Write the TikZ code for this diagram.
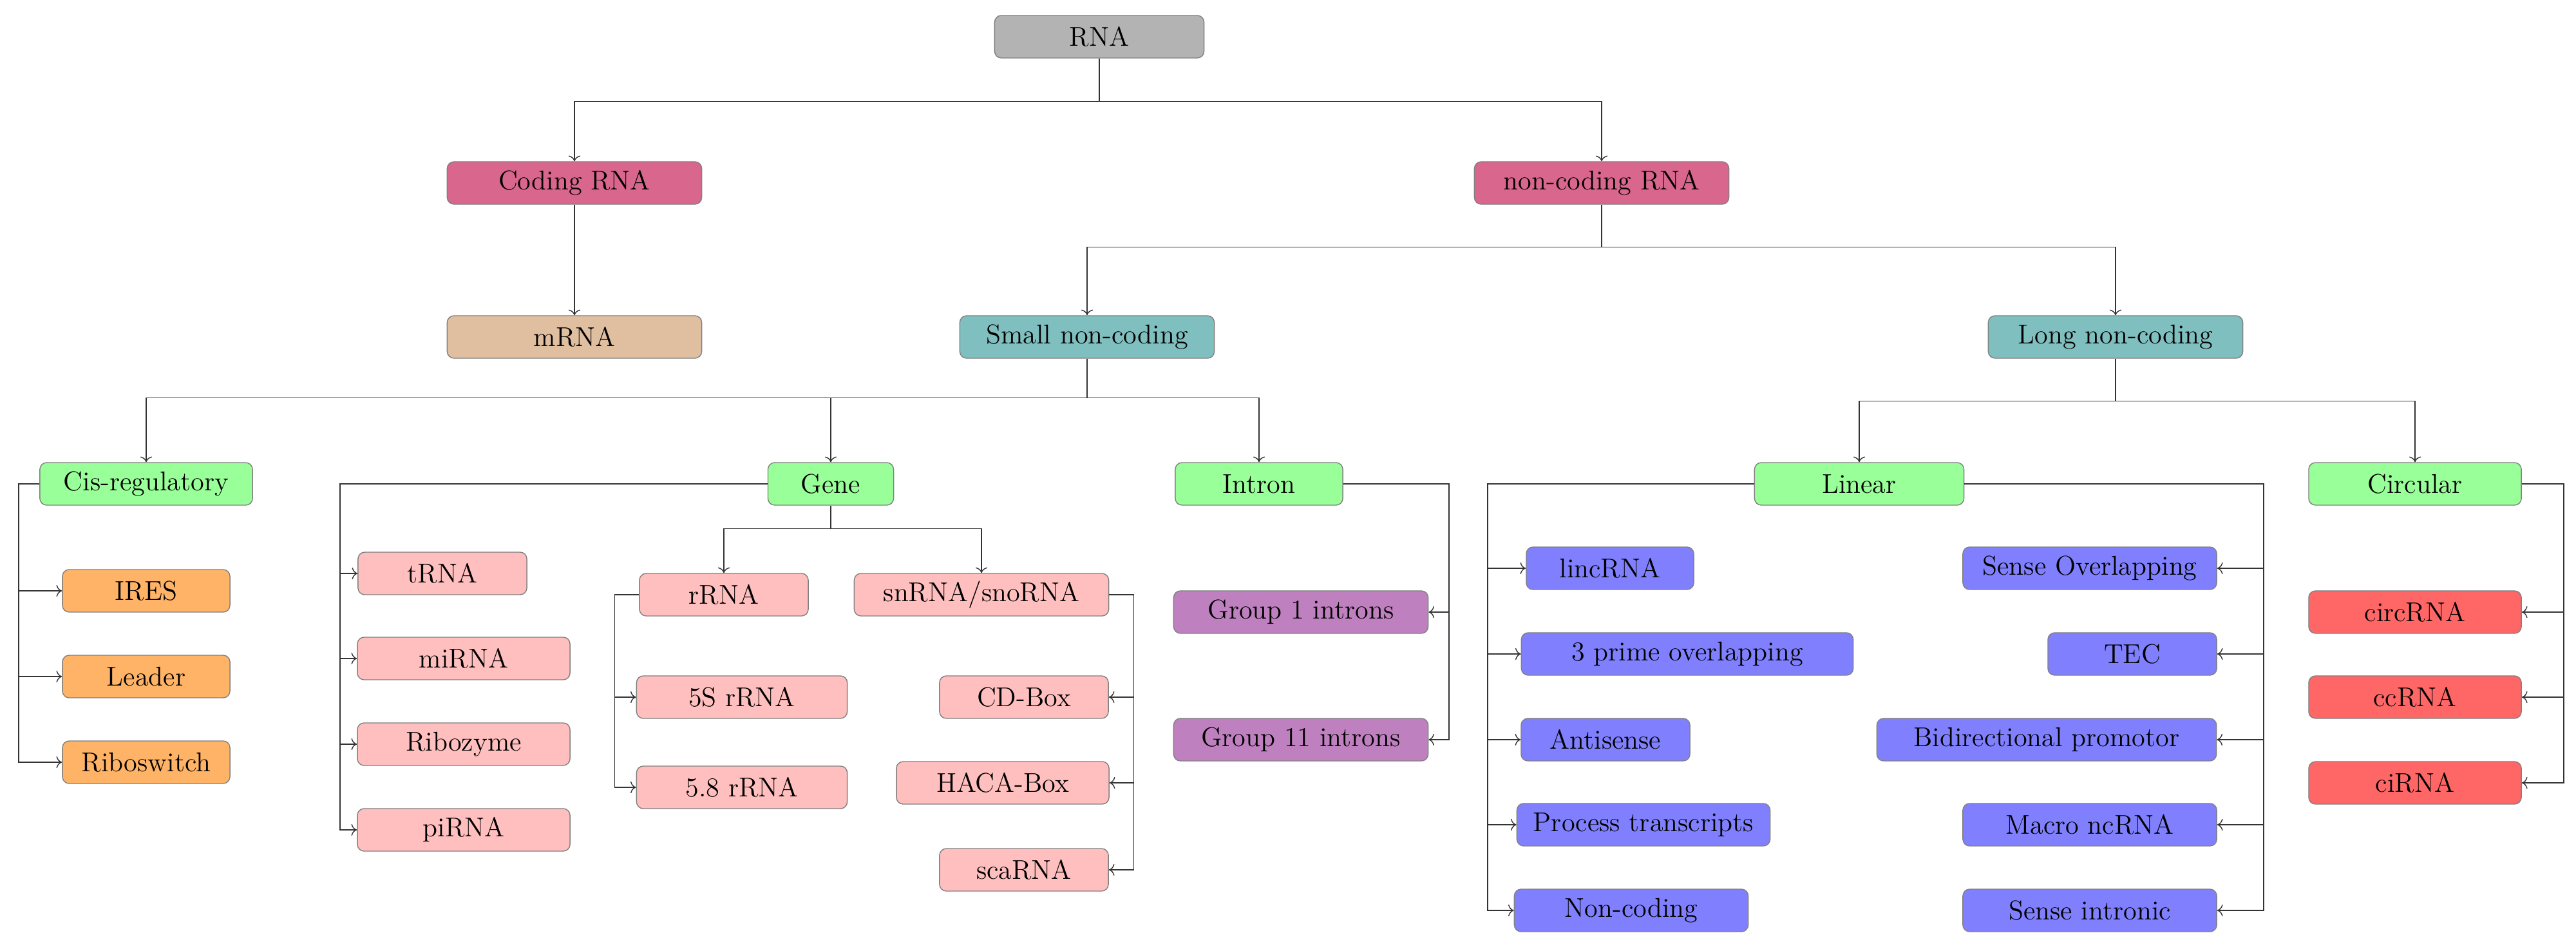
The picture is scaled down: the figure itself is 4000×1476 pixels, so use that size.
\documentclass[tikz,border=0pt]{standalone}
\usetikzlibrary{arrows.meta}
\definecolor{cgray}{RGB}{179,179,179}
\definecolor{cmag}{RGB}{217,102,140}
\definecolor{ctan}{RGB}{224,191,161}
\definecolor{cteal}{RGB}{128,191,191}
\definecolor{cgreen}{RGB}{153,255,153}
\definecolor{corange}{RGB}{255,179,102}
\definecolor{cpink}{RGB}{255,191,191}
\definecolor{cpurple}{RGB}{191,128,191}
\definecolor{cblue}{RGB}{128,128,255}
\definecolor{cred}{RGB}{255,102,102}
\tikzset{
  box/.style={draw=black!50, rounded corners=3pt, minimum height=0.66cm, inner sep=0pt, font=\large},
  arr/.style={->, draw=black!80, thin},
  ln/.style={draw=black!80, thin}
}
\begin{document}
\begin{tikzpicture}[x=0.01cm,y=-0.01cm]
\useasboundingbox (0,0) rectangle (4000,1476);
% top levels
\node[box, fill=cgray, minimum width=3.25cm] (rna) at (1707,57) {RNA};
\node[box, fill=cmag, minimum width=3.95cm] (coding) at (892,284) {Coding RNA};
\node[box, fill=cmag, minimum width=3.95cm] (noncoding) at (2487,284) {non-coding RNA};
\node[box, fill=ctan, minimum width=3.95cm] (mrna) at (892,523) {mRNA};
\node[box, fill=cteal, minimum width=3.95cm] (small) at (1688,523) {Small non-coding};
\node[box, fill=cteal, minimum width=3.95cm] (long) at (3285,523) {Long non-coding};
% third level
\node[box, fill=cgreen, minimum width=3.3cm] (cis) at (227,751) {Cis-regulatory};
\node[box, fill=cgreen, minimum width=1.95cm] (gene) at (1290,751) {Gene};
\node[box, fill=cgreen, minimum width=2.6cm] (intron) at (1955,751) {Intron};
\node[box, fill=cgreen, minimum width=3.25cm] (linear) at (2887,751) {Linear};
\node[box, fill=cgreen, minimum width=3.3cm] (circular) at (3750,751) {Circular};
% cis-regulatory
\node[box, fill=corange, minimum width=2.6cm] (ires) at (227,917) {IRES};
\node[box, fill=corange, minimum width=2.6cm] (leader) at (227,1050) {Leader};
\node[box, fill=corange, minimum width=2.6cm] (ribosw) at (227,1183) {Riboswitch};
% gene
\node[box, fill=cpink, minimum width=2.62cm] (trna) at (687,890) {tRNA};
\node[box, fill=cpink, minimum width=3.3cm] (mirna) at (720,1022) {miRNA};
\node[box, fill=cpink, minimum width=3.3cm] (ribozyme) at (720,1155) {Ribozyme};
\node[box, fill=cpink, minimum width=3.3cm] (pirna) at (720,1288) {piRNA};
\node[box, fill=cpink, minimum width=2.62cm] (rrna) at (1124,923) {rRNA};
\node[box, fill=cpink, minimum width=3.95cm] (snrna) at (1524,923) {snRNA/snoRNA};
\node[box, fill=cpink, minimum width=3.27cm] (fives) at (1152,1082) {5S rRNA};
\node[box, fill=cpink, minimum width=3.27cm] (fiveeight) at (1152,1222) {5.8 rRNA};
\node[box, fill=cpink, minimum width=2.62cm] (cdbox) at (1590,1082) {CD-Box};
\node[box, fill=cpink, minimum width=3.3cm] (hacabox) at (1557,1215) {HACA-Box};
\node[box, fill=cpink, minimum width=2.62cm] (scarna) at (1590,1350) {scaRNA};
% intron
\node[box, fill=cpurple, minimum width=3.95cm] (groupone) at (2020,950) {Group 1 introns};
\node[box, fill=cpurple, minimum width=3.95cm] (groupel) at (2020,1148) {Group 11 introns};
% linear
\node[box, fill=cblue, minimum width=2.6cm] (lincrna) at (2500,882) {lincRNA};
\node[box, fill=cblue, minimum width=5.15cm] (threeprime) at (2620,1015) {3 prime overlapping};
\node[box, fill=cblue, minimum width=2.62cm] (antisense) at (2493,1148) {Antisense};
\node[box, fill=cblue, minimum width=3.93cm] (process) at (2552,1280) {Process transcripts};
\node[box, fill=cblue, minimum width=3.63cm] (noncod) at (2533,1413) {Non-coding};
\node[box, fill=cblue, minimum width=3.94cm] (senseov) at (3245,882) {Sense Overlapping};
\node[box, fill=cblue, minimum width=2.62cm] (tec) at (3311,1015) {TEC};
\node[box, fill=cblue, minimum width=5.27cm] (bidir) at (3178,1148) {Bidirectional promotor};
\node[box, fill=cblue, minimum width=3.94cm] (macro) at (3245,1280) {Macro ncRNA};
\node[box, fill=cblue, minimum width=3.94cm] (senseint) at (3245,1413) {Sense intronic};
% circular
\node[box, fill=cred, minimum width=3.3cm] (circrna) at (3750,950) {circRNA};
\node[box, fill=cred, minimum width=3.3cm] (ccrna) at (3750,1082) {ccRNA};
\node[box, fill=cred, minimum width=3.3cm] (cirna) at (3750,1215) {ciRNA};

% tree connectors
\draw[arr] (rna.south) -- ++(0,67) -| (coding.north);
\draw[arr] (rna.south) -- ++(0,67) -| (noncoding.north);
\draw[arr] (coding.south) -- (mrna.north);
\draw[arr] (noncoding.south) -- ++(0,66) -| (small.north);
\draw[arr] (noncoding.south) -- ++(0,66) -| (long.north);
\draw[arr] (small.south) -- ++(0,61) -| (cis.north);
\draw[arr] (small.south) -- ++(0,61) -| (gene.north);
\draw[arr] (small.south) -- ++(0,61) -| (intron.north);
\draw[arr] (long.south) -- ++(0,66) -| (linear.north);
\draw[arr] (long.south) -- ++(0,66) -| (circular.north);
\draw[arr] (gene.south) -- ++(0,36) -| (rrna.north);
\draw[arr] (gene.south) -- ++(0,36) -| (snrna.north);
% side connectors
\foreach \c in {ires,leader,ribosw}
  \draw[arr] (cis.west) -- ++(-32,0) |- (\c.west);
\foreach \c in {trna,mirna,ribozyme,pirna}
  \draw[arr] (gene.west) -- (528,751) |- (\c.west);
\foreach \c in {fives,fiveeight}
  \draw[arr] (rrna.west) -- ++(-38,0) |- (\c.west);
\foreach \c in {cdbox,hacabox,scarna}
  \draw[arr] (snrna.east) -- ++(38,0) |- (\c.east);
\foreach \c in {groupone,groupel}
  \draw[arr] (intron.east) -- (2250,751) |- (\c.east);
\foreach \c in {lincrna,threeprime,antisense,process,noncod}
  \draw[arr] (linear.west) -- (2310,751) |- (\c.west);
\foreach \c in {senseov,tec,bidir,macro,senseint}
  \draw[arr] (linear.east) -- (3515,751) |- (\c.east);
\foreach \c in {circrna,ccrna,cirna}
  \draw[arr] (circular.east) -- ++(65,0) |- (\c.east);
\end{tikzpicture}
\end{document}
